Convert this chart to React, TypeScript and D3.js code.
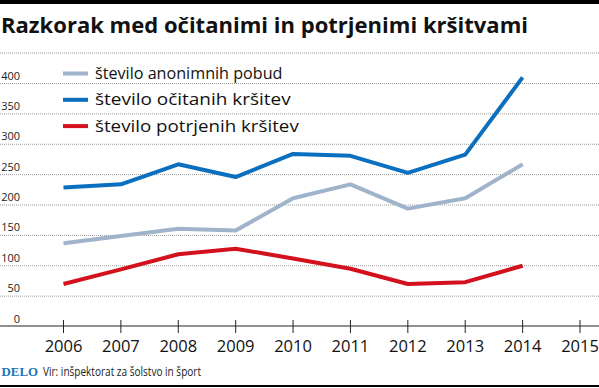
import * as d3 from "d3";

const years = [2006, 2007, 2008, 2009, 2010, 2011, 2012, 2013, 2014, 2015];
const dataYears = [2006, 2007, 2008, 2009, 2010, 2011, 2012, 2013, 2014];
const anonimne = [137, 149, 161, 158, 211, 234, 194, 211, 267];
const ocitane = [229, 234, 267, 246, 284, 281, 253, 283, 410];
const potrjene = [70, 94, 119, 128, 112, 95, 70, 73, 100];
const yTicks = [0, 50, 100, 150, 200, 250, 300, 350, 400];

const series = [
  { name: "število anonimnih pobud", values: anonimne, color: "#9fb3cb" },
  { name: "število očitanih kršitev", values: ocitane, color: "#0b6fbf" },
  { name: "število potrjenih kršitev", values: potrjene, color: "#d2111c" },
];

const W = 599;
const H = 388;
const FONT = "'Open Sans', sans-serif";

const App = () => {
  const x = d3.scalePoint<number>().domain(years).range([63.5, 580]);
  const y = d3.scaleLinear().domain([0, 400]).range([326.5, 83.5]);

  const line = d3
    .line<number>()
    .x((_d, i) => x(dataYears[i]) as number)
    .y((d) => y(d));

  return (
    <svg
      width={W}
      height={H}
      style={{ position: "absolute", left: 0, top: 0, background: "#fff" }}
    >
      {/* top bar */}
      <rect x={0} y={0} width={W} height={4} fill="#000" />
      <text
        x={1}
        y={32.5}
        fontFamily={FONT}
        fontWeight={700}
        fontSize={21.5}
        textLength={527}
        lengthAdjust="spacingAndGlyphs"
        fill="#111"
      >
        Razkorak med očitanimi in potrjenimi kršitvami
      </text>
      <line
        x1={0}
        x2={W}
        y1={53}
        y2={53}
        stroke="#9a9a9a"
        strokeDasharray="1,1"
      />

      {/* grid + y labels */}
      {yTicks.map((t) => (
        <g key={t}>
          {t > 0 && (
            <line
              x1={0}
              x2={W}
              y1={y(t)}
              y2={y(t)}
              stroke="#9a9a9a"
              strokeDasharray="1,1"
            />
          )}
          <text
            x={20}
            y={y(t) - 4}
            textAnchor="end"
            fontFamily={FONT}
            fontSize={11}
            fill="#222"
          >
            {t}
          </text>
        </g>
      ))}

      {/* legend */}
      {series.map((s, i) => (
        <g key={s.name} transform={`translate(0,${73.5 + i * 26.3})`}>
          <line x1={63} x2={88} y1={0} y2={0} stroke={s.color} strokeWidth={4} />
          <text
            x={95}
            y={5.5}
            fontFamily={FONT}
            fontSize={16.5}
            textLength={s.name.length * 8.15}
            lengthAdjust="spacingAndGlyphs"
            fill="#111"
          >
            {s.name}
          </text>
        </g>
      ))}

      {/* series */}
      {series.map((s) => (
        <path
          key={s.name}
          d={line(s.values) ?? ""}
          fill="none"
          stroke={s.color}
          strokeWidth={4}
          strokeLinejoin="round"
        />
      ))}

      {/* x axis */}
      <line x1={0} x2={W} y1={326} y2={326} stroke="#222" strokeWidth={1.2} />
      {years.map((yr) => (
        <g key={yr} transform={`translate(${x(yr)},0)`}>
          <line y1={320} y2={333} stroke="#222" strokeWidth={1} />
          <text
            y={352}
            textAnchor="middle"
            fontFamily={FONT}
            fontSize={16.5}
            fill="#111"
          >
            {yr}
          </text>
        </g>
      ))}

      {/* footer */}
      <text
        x={1.5}
        y={376}
        fontFamily="'Liberation Serif', serif"
        fontWeight={700}
        fontSize={13.5}
        textLength={36.5}
        lengthAdjust="spacingAndGlyphs"
        fill="#1b75bc"
      >
        DELO
      </text>
      <text
        x={43}
        y={376}
        fontFamily={FONT}
        fontSize={12}
        textLength={158}
        lengthAdjust="spacingAndGlyphs"
        fill="#222"
      >
        Vir: inšpektorat za šolstvo in šport
      </text>
      <rect x={0} y={385} width={W} height={2} fill="#000" />
    </svg>
  );
};

export default App;
